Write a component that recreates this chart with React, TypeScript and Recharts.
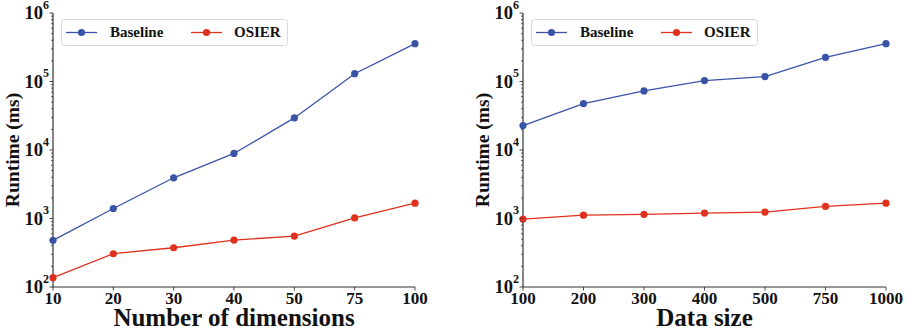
import { LineChart, Line, XAxis, YAxis, Legend } from 'recharts'

const dimensions = ['10', '20', '30', '40', '50', '75', '100']
const baselineByDim = [480, 1400, 3930, 8900, 29400, 130000, 357000]
const osierByDim = [137, 306, 374, 484, 553, 1020, 1675]

const dataSizes = ['100', '200', '300', '400', '500', '750', '1000']
const baselineBySize = [22700, 47600, 72800, 103000, 118000, 225000, 357000]
const osierBySize = [980, 1120, 1150, 1200, 1240, 1500, 1675]

const majorTicks = [100, 1000, 10000, 100000, 1000000]
const minorTicks = [100, 1000, 10000, 100000].flatMap((d) => [2, 3, 4, 5, 6, 7, 8, 9].map((m) => d * m))

const BLUE = '#3953a7'
const RED = '#e0301e'
const AXIS = '#333'
const serif = { fontFamily: 'Liberation Serif, DejaVu Serif, serif', fontWeight: 700 } as const

const YTick = (props: any) => {
  const { x, y, payload } = props
  const v = payload.value
  const major = majorTicks.includes(v)
  if (!major) {
    return <line x1={x} x2={x - 2} y1={y} y2={y} stroke={AXIS} strokeWidth={0.8} />
  }
  const exp = Math.round(Math.log10(v))
  return (
    <g>
      <line x1={x} x2={x - 3.5} y1={y} y2={y} stroke={AXIS} strokeWidth={0.9} />
      <text x={x - 4} y={y + 6} textAnchor="end" style={serif} fill="#111">
        <tspan fontSize={18.5}>10</tspan>
        <tspan fontSize={12} dy={-10.5}>{exp}</tspan>
      </text>
    </g>
  )
}

const XTick = (props: any) => {
  const { x, y, payload } = props
  return (
    <g>
      <line x1={x} x2={x} y1={y} y2={y + 3.5} stroke={AXIS} strokeWidth={0.9} />
      <text x={x} y={y + 16.5} textAnchor="middle" style={serif} fontSize={17} fill="#111">
        {payload.value}
      </text>
    </g>
  )
}

const LegendBox = () => (
  <svg width={227} height={27} style={{ display: 'block' }}>
    <rect x={0.5} y={0.5} width={226} height={26} rx={3} fill="#fff" stroke="#d8d8d8" strokeWidth={1} />
    <line x1={5} x2={36} y1={13.5} y2={13.5} stroke={BLUE} strokeWidth={1.3} />
    <circle cx={20.5} cy={13.5} r={3.6} fill={BLUE} />
    <text x={49} y={18} style={serif} fontSize={15} fill="#111">Baseline</text>
    <line x1={130} x2={161} y1={13.5} y2={13.5} stroke={RED} strokeWidth={1.3} />
    <circle cx={145.5} cy={13.5} r={3.6} fill={RED} />
    <text x={173} y={18} style={serif} fontSize={15} fill="#111">OSIER</text>
  </svg>
)

interface PanelProps {
  categories: string[]
  baseline: number[]
  osier: number[]
  xLabel: string
  width: number
  yAxisWidth: number
  rightMargin: number
}

function Panel({ categories, baseline, osier, xLabel, width, yAxisWidth, rightMargin }: PanelProps) {
  const data = categories.map((c, i) => ({ name: c, baseline: baseline[i], osier: osier[i] }))
  return (
    <LineChart width={width} height={333} data={data} margin={{ top: 13, right: rightMargin, left: 0, bottom: 0 }}>
      <XAxis
        dataKey="name"
        height={46}
        tickSize={0}
        tickMargin={0}
        interval={0}
        tickLine={false}
        tick={<XTick />}
        axisLine={{ stroke: AXIS, strokeWidth: 1.2 }}
        label={(p: any) => {
          const vb = p.viewBox
          return (
            <text x={vb.x + vb.width / 2} y={vb.y + 39} textAnchor="middle" style={serif} fontSize={25} fill="#111">
              {xLabel}
            </text>
          )
        }}
      />
      <XAxis xAxisId="top" dataKey="name" orientation="top" height={0} tick={false} tickLine={false} axisLine={{ stroke: AXIS, strokeWidth: 1.2 }} />
      <YAxis
        type="number"
        scale="log"
        domain={[100, 1000000]}
        allowDataOverflow
        ticks={[...majorTicks, ...minorTicks].sort((a, b) => a - b)}
        interval={0}
        width={yAxisWidth}
        tickSize={0}
        tickMargin={0}
        tickLine={false}
        tick={<YTick />}
        axisLine={{ stroke: AXIS, strokeWidth: 1.2 }}
        label={(p: any) => {
          const vb = p.viewBox
          const cx = vb.x + vb.width - 41
          const cy = vb.y + vb.height / 2
          return (
            <text x={cx} y={cy} transform={`rotate(-90 ${cx} ${cy})`} textAnchor="middle" dominantBaseline="central" style={serif} fontSize={19.5} fill="#111">
              Runtime (ms)
            </text>
          )
        }}
      />
      <YAxis yAxisId="r" orientation="right" width={0} type="number" domain={[0, 1]} tick={false} tickLine={false} axisLine={{ stroke: AXIS, strokeWidth: 1.2 }} />
      <Legend
        layout="horizontal"
        verticalAlign="middle"
        align="center"
        content={() => <LegendBox />}
        wrapperStyle={{ left: yAxisWidth + 8, top: 19, width: 227, height: 27 }}
      />
      <Line dataKey="baseline" stroke={BLUE} strokeWidth={1.3} dot={{ r: 3.6, fill: BLUE, stroke: BLUE, strokeWidth: 0 }} activeDot={false} isAnimationActive={false} />
      <Line dataKey="osier" stroke={RED} strokeWidth={1.3} dot={{ r: 3.6, fill: RED, stroke: RED, strokeWidth: 0 }} activeDot={false} isAnimationActive={false} />
    </LineChart>
  )
}

export default function App() {
  return (
    <div style={{ position: 'absolute', left: 0, top: 0, width: 909, height: 333, display: 'flex', background: '#fff' }}>
      <Panel categories={dimensions} baseline={baselineByDim} osier={osierByDim} xLabel="Number of dimensions" width={455} yAxisWidth={53} rightMargin={40} />
      <Panel categories={dataSizes} baseline={baselineBySize} osier={osierBySize} xLabel="Data size" width={454} yAxisWidth={68} rightMargin={23} />
    </div>
  )
}
